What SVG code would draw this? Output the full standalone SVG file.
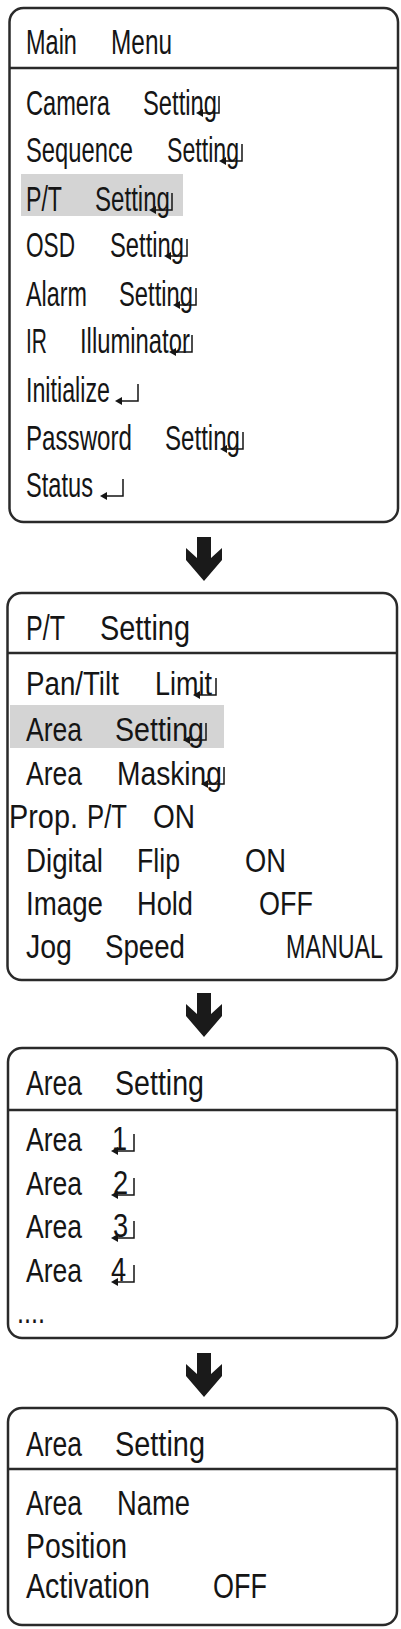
<svg xmlns="http://www.w3.org/2000/svg" xmlns:xlink="http://www.w3.org/1999/xlink" width="401" height="1629" viewBox="0 0 401 1629">
<style>
.box{fill:#fff;stroke:#2a2a2a;stroke-width:2.5}
.div{stroke:#2a2a2a;stroke-width:2.5}
.hl{fill:#d4d4d4}
text{font-family:"Liberation Sans",Arial,sans-serif;fill:#151515}
.t1{font-size:35px}
.t2{font-size:34px}
.ent{fill:none;stroke:#151515;stroke-width:1.5}
.enth{fill:#151515}
.arr{fill:#1a1a1a}
</style>
<defs>
<g id="enter">
<path class="ent" d="M0,-17 V0 H-17"/>
<path class="enth" d="M-23,0 L-16,-4 L-16,4 Z"/>
</g>
<path id="down" d="M197,0 H211 V21 L222,11 V23 L204,44 L186,23 V11 L197,21 Z"/>
</defs>

<g id="connectors">
<use xlink:href="#down" class="arr" transform="translate(0,537)"/>
<use xlink:href="#down" class="arr" transform="translate(0,993)"/>
<use xlink:href="#down" class="arr" transform="translate(0,1353)"/>
</g>

<g id="main-menu">
<rect class="box" x="9.5" y="8" width="388.5" height="514" rx="14"/>
<line class="div" x1="9.5" y1="68" x2="398" y2="68"/>
<rect class="hl" x="21" y="174" width="162" height="42"/>
<text class="t1" transform="translate(26,54) scale(0.672,1)">Main</text>
<text class="t1" transform="translate(111,54) scale(0.697,1)">Menu</text>
<text class="t1" transform="translate(26,115) scale(0.675,1)">Camera</text>
<text class="t1" transform="translate(143,115) scale(0.679,1)">Setting</text>
<use xlink:href="#enter" transform="translate(219,113)"/>
<text class="t1" transform="translate(26,162) scale(0.679,1)">Sequence</text>
<text class="t1" transform="translate(167,162) scale(0.661,1)">Setting</text>
<use xlink:href="#enter" transform="translate(242,161)"/>
<text class="t1" transform="translate(26,211) scale(0.661,1)">P/T</text>
<text class="t1" transform="translate(95,211) scale(0.688,1)">Setting</text>
<use xlink:href="#enter" transform="translate(172,210)"/>
<text class="t1" transform="translate(26,257) scale(0.646,1)">OSD</text>
<text class="t1" transform="translate(110,257) scale(0.679,1)">Setting</text>
<use xlink:href="#enter" transform="translate(187,256)"/>
<text class="t1" transform="translate(26,306) scale(0.667,1)">Alarm</text>
<text class="t1" transform="translate(119,306) scale(0.679,1)">Setting</text>
<use xlink:href="#enter" transform="translate(196,305)"/>
<text class="t1" transform="translate(26,353) scale(0.6,1)">IR</text>
<text class="t1" transform="translate(80,353) scale(0.681,1)">Illuminator</text>
<use xlink:href="#enter" transform="translate(192,352)"/>
<text class="t1" transform="translate(26,402) scale(0.664,1)">Initialize</text>
<use xlink:href="#enter" transform="translate(138,401)"/>
<text class="t1" transform="translate(26,450) scale(0.69,1)">Password</text>
<text class="t1" transform="translate(165,450) scale(0.688,1)">Setting</text>
<use xlink:href="#enter" transform="translate(243,449)"/>
<text class="t1" transform="translate(26,497) scale(0.675,1)">Status</text>
<use xlink:href="#enter" transform="translate(123,496)"/>
</g>

<g id="pt-setting">
<rect class="box" x="7.5" y="593" width="389.5" height="387" rx="14"/>
<line class="div" x1="7.5" y1="653" x2="397" y2="653"/>
<rect class="hl" x="10" y="705" width="214" height="43"/>
<text class="t1" transform="translate(26,640) scale(0.716,1)">P/T</text>
<text class="t1" transform="translate(100,640) scale(0.826,1)">Setting</text>
<text class="t2" transform="translate(26,695) scale(0.815,1)">Pan/Tilt</text>
<text class="t2" transform="translate(155,695) scale(0.794,1)">Limit</text>
<use xlink:href="#enter" transform="translate(216,695)"/>
<text class="t2" transform="translate(26,741) scale(0.78,1)">Area</text>
<text class="t2" transform="translate(115,741) scale(0.841,1)">Setting</text>
<use xlink:href="#enter" transform="translate(206,740)"/>
<text class="t2" transform="translate(26,785) scale(0.78,1)">Area</text>
<text class="t2" transform="translate(117,785) scale(0.829,1)">Masking</text>
<use xlink:href="#enter" transform="translate(224,784)"/>
<text class="t2" transform="translate(9,828) scale(0.849,1)">Prop.</text>
<text class="t2" transform="translate(87,828) scale(0.756,1)">P/T</text>
<text class="t2" transform="translate(153,828) scale(0.824,1)">ON</text>
<text class="t2" transform="translate(26,872) scale(0.815,1)">Digital</text>
<text class="t2" transform="translate(137,872) scale(0.785,1)">Flip</text>
<text class="t2" transform="translate(245,872) scale(0.804,1)">ON</text>
<text class="t2" transform="translate(26,915) scale(0.815,1)">Image</text>
<text class="t2" transform="translate(137,915) scale(0.801,1)">Hold</text>
<text class="t2" transform="translate(259,915) scale(0.794,1)">OFF</text>
<text class="t2" transform="translate(26,958) scale(0.839,1)">Jog</text>
<text class="t2" transform="translate(105,958) scale(0.814,1)">Speed</text>
<text class="t2" transform="translate(286,958) scale(0.685,1)">MANUAL</text>
</g>

<g id="area-setting-list">
<rect class="box" x="8" y="1048" width="389" height="290" rx="14"/>
<line class="div" x1="8" y1="1110" x2="397" y2="1110"/>
<text class="t1" transform="translate(26,1095) scale(0.758,1)">Area</text>
<text class="t1" transform="translate(115,1095) scale(0.817,1)">Setting</text>
<text class="t2" transform="translate(26,1151) scale(0.78,1)">Area</text>
<text class="t2" transform="translate(112,1150) scale(0.8,1)">1</text>
<use xlink:href="#enter" transform="translate(134,1151)"/>
<text class="t2" transform="translate(26,1195) scale(0.78,1)">Area</text>
<text class="t2" transform="translate(113,1194) scale(0.8,1)">2</text>
<use xlink:href="#enter" transform="translate(134,1195)"/>
<text class="t2" transform="translate(26,1238) scale(0.78,1)">Area</text>
<text class="t2" transform="translate(113,1237) scale(0.8,1)">3</text>
<use xlink:href="#enter" transform="translate(134,1238)"/>
<text class="t2" transform="translate(26,1282) scale(0.78,1)">Area</text>
<text class="t2" transform="translate(111,1281) scale(0.8,1)">4</text>
<use xlink:href="#enter" transform="translate(134,1282)"/>
<text class="t2" transform="translate(17,1323) scale(0.74,1)">....</text>
</g>

<g id="area-setting-detail">
<rect class="box" x="8" y="1408" width="389" height="217" rx="14"/>
<line class="div" x1="8" y1="1469" x2="397" y2="1469"/>
<text class="t1" transform="translate(26,1456) scale(0.758,1)">Area</text>
<text class="t1" transform="translate(115,1456) scale(0.826,1)">Setting</text>
<text class="t1" transform="translate(26,1515) scale(0.758,1)">Area</text>
<text class="t1" transform="translate(117,1515) scale(0.782,1)">Name</text>
<text class="t1" transform="translate(26,1558) scale(0.811,1)">Position</text>
<text class="t1" transform="translate(26,1598) scale(0.817,1)">Activation</text>
<text class="t1" transform="translate(213,1598) scale(0.771,1)">OFF</text>
</g>
</svg>
